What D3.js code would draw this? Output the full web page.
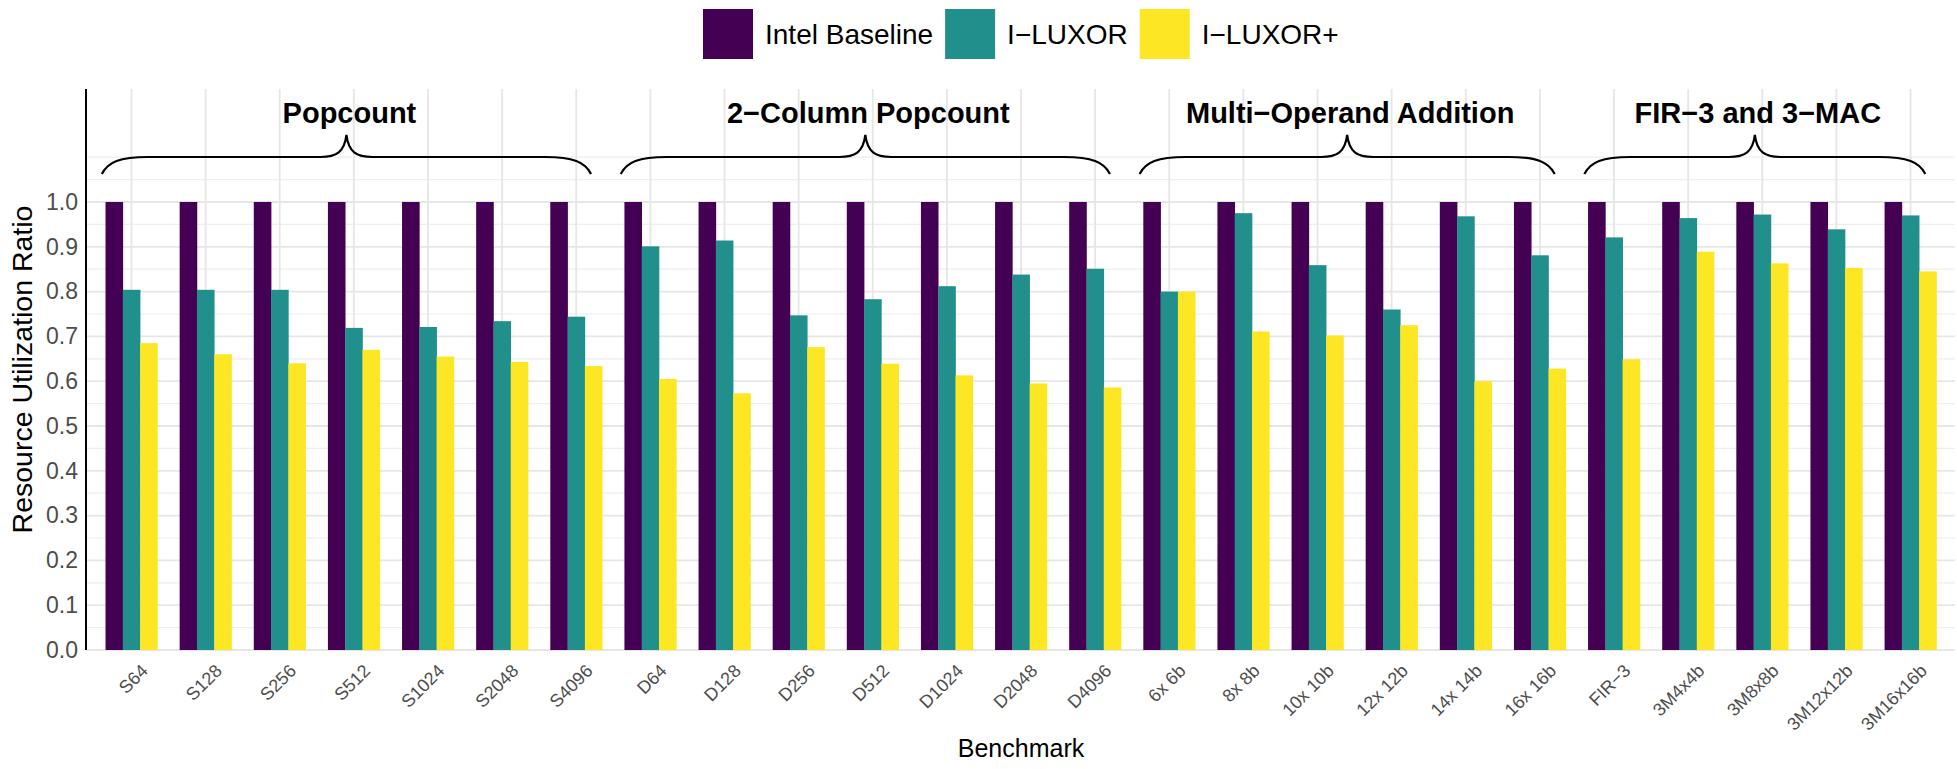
<!DOCTYPE html>
<html>
<head>
<meta charset="utf-8">
<script src="https://cdn.jsdelivr.net/npm/d3@7"></script>
<style>
  html, body { margin: 0; padding: 0; background: #ffffff; }
  svg { display: block; }
  text { font-family: "Liberation Sans", Arial, Helvetica, sans-serif; }
</style>
</head>
<body>
<svg id="chart" width="1957" height="769"></svg>
<script>
// ---------------- data ----------------
const categories = ["S64","S128","S256","S512","S1024","S2048","S4096",
  "D64","D128","D256","D512","D1024","D2048","D4096",
  "6x 6b","8x 8b","10x 10b","12x 12b","14x 14b","16x 16b",
  "FIR\u22123","3M4x4b","3M8x8b","3M12x12b","3M16x16b"];
const seriesNames = ["Intel Baseline","I\u2212LUXOR","I\u2212LUXOR+"];
const intelBaseline = [1.0,1.0,1.0,1.0,1.0,1.0,1.0,
  1.0,1.0,1.0,1.0,1.0,1.0,1.0,
  1.0,1.0,1.0,1.0,1.0,1.0,
  1.0,1.0,1.0,1.0,1.0];
const iLuxor = [0.804,0.804,0.804,0.719,0.721,0.734,0.744,
  0.901,0.914,0.747,0.783,0.812,0.838,0.851,
  0.800,0.975,0.859,0.760,0.968,0.881,
  0.921,0.964,0.972,0.939,0.970];
const iLuxorPlus = [0.685,0.660,0.640,0.670,0.655,0.643,0.634,
  0.605,0.573,0.676,0.639,0.613,0.595,0.586,
  0.800,0.711,0.702,0.725,0.600,0.628,
  0.649,0.889,0.863,0.853,0.845];
const seriesColors = ["#440154","#21908C","#FDE725"];
const groupLabels = ["Popcount","2\u2212Column Popcount","Multi\u2212Operand Addition","FIR\u22123 and 3\u2212MAC"];
const groupFirst = ["S64","D64","6x 6b","FIR\u22123"];
const groupLast = ["S4096","D4096","16x 16b","3M16x16b"];
const yTickValues = [0.0,0.1,0.2,0.3,0.4,0.5,0.6,0.7,0.8,0.9,1.0];
const yTickLabels = ["0.0","0.1","0.2","0.3","0.4","0.5","0.6","0.7","0.8","0.9","1.0"];
const yGridMinor = [0.05,0.15,0.25,0.35,0.45,0.55,0.65,0.75,0.85,0.95,1.05,1.1];
const xTitle = "Benchmark";
const yTitle = "Resource Utilization Ratio";

// ---------------- layout ----------------
const svg = d3.select("#chart");
const panel = {left: 87, right: 1955, top: 89, bottom: 650};
const FONT = "'Liberation Sans', Arial, Helvetica, sans-serif";

const x = d3.scalePoint().domain(categories).range([panel.left, panel.right]).padding(0.6);
const step = x.step();
const y = d3.scaleLinear().domain([0, 1.2522]).range([panel.bottom, panel.top]);
const groupW = 0.7 * step;
const xSub = d3.scaleBand().domain(seriesNames).range([-groupW / 2, groupW / 2]).paddingInner(0);
const color = d3.scaleOrdinal().domain(seriesNames).range(seriesColors);
const posAt = i => x(categories[0]) + i * step;

const rows = categories.map((c, i) => ({
  cat: c,
  vals: [intelBaseline[i], iLuxor[i], iLuxorPlus[i]].map((v, k) => ({series: seriesNames[k], v}))
}));

// ---------------- grid ----------------
const grid = svg.append("g");
grid.selectAll("line.minor").data(yGridMinor).enter().append("line")
  .attr("x1", panel.left).attr("x2", panel.right)
  .attr("y1", d => y(d)).attr("y2", d => y(d))
  .attr("stroke", "#eeeeee").attr("stroke-width", 1.2);
grid.selectAll("line.major").data(yTickValues).enter().append("line")
  .attr("x1", panel.left).attr("x2", panel.right)
  .attr("y1", d => y(d)).attr("y2", d => y(d))
  .attr("stroke", "#e6e6e6").attr("stroke-width", 1.8);
grid.selectAll("line.vert").data(categories).enter().append("line")
  .attr("x1", d => x(d)).attr("x2", d => x(d))
  .attr("y1", panel.top).attr("y2", panel.bottom)
  .attr("stroke", "#e6e6e6").attr("stroke-width", 1.8);

// ---------------- bars ----------------
const gBars = svg.append("g");
const grp = gBars.selectAll("g.cat").data(rows).enter().append("g")
  .attr("transform", d => `translate(${x(d.cat)},0)`);
grp.selectAll("rect").data(d => d.vals).enter().append("rect")
  .attr("x", d => xSub(d.series))
  .attr("width", xSub.bandwidth() + 0.3)
  .attr("y", d => y(d.v))
  .attr("height", d => y(0) - y(d.v))
  .attr("fill", d => color(d.series));

// ---------------- y axis ----------------
svg.append("line")
  .attr("x1", panel.left - 1).attr("x2", panel.left - 1)
  .attr("y1", panel.top).attr("y2", panel.bottom)
  .attr("stroke", "#000").attr("stroke-width", 2);

const yAxis = d3.axisLeft(y).tickValues(yTickValues)
  .tickFormat((d, i) => yTickLabels[i]).tickSize(0).tickPadding(9);
const yAxisG = svg.append("g").attr("transform", `translate(${panel.left},0)`).call(yAxis);
yAxisG.select(".domain").remove();
yAxisG.selectAll("text")
  .attr("font-family", FONT).attr("font-size", 23).attr("fill", "#4d4d4d");

// ---------------- x axis ----------------
const xAxis = d3.axisBottom(x).tickSize(0).tickPadding(0);
const xAxisG = svg.append("g").attr("transform", `translate(0,${panel.bottom})`).call(xAxis);
xAxisG.select(".domain").remove();
xAxisG.selectAll(".tick text")
  .attr("font-family", FONT).attr("font-size", 18).attr("fill", "#4d4d4d")
  .attr("text-anchor", "end")
  .attr("dy", null).attr("y", null)
  .attr("transform", "translate(17,22) rotate(-45)");

// ---------------- titles ----------------
svg.append("text")
  .attr("x", (panel.left + panel.right) / 2).attr("y", 757)
  .attr("text-anchor", "middle")
  .attr("font-family", FONT).attr("font-size", 25).attr("fill", "#000")
  .text(xTitle);
svg.append("text")
  .attr("transform", `translate(32,${(panel.top + panel.bottom) / 2}) rotate(-90)`)
  .attr("text-anchor", "middle")
  .attr("font-family", FONT).attr("font-size", 28.5).attr("fill", "#000")
  .text(yTitle);

// ---------------- braces ----------------
const braceG = svg.append("g");
const yEnd = y(1.0625), yFlat = y(1.1004), yTip = y(1.1496), yText = y(1.177);
groupLabels.forEach((lab, gi) => {
  const i0 = categories.indexOf(groupFirst[gi]);
  const i1 = categories.indexOf(groupLast[gi]);
  const x0 = posAt(i0 - 0.4), x1 = posAt(i1 + 0.2);
  const xm = (x0 + x1) / 2;
  const p = d3.path();
  p.moveTo(x0, yEnd);
  p.bezierCurveTo(x0 + 6, yEnd - 12, x0 + 18, yFlat, x0 + 46, yFlat);
  p.lineTo(xm - 26, yFlat);
  p.bezierCurveTo(xm - 10, yFlat, xm - 2, yFlat - 5, xm, yTip);
  p.bezierCurveTo(xm + 2, yFlat - 5, xm + 10, yFlat, xm + 26, yFlat);
  p.lineTo(x1 - 46, yFlat);
  p.bezierCurveTo(x1 - 18, yFlat, x1 - 6, yEnd - 12, x1, yEnd);
  braceG.append("path").attr("d", p.toString())
    .attr("fill", "none").attr("stroke", "#000").attr("stroke-width", 2.2);
  braceG.append("text")
    .attr("x", xm + 3).attr("y", yText)
    .attr("text-anchor", "middle")
    .attr("font-family", FONT).attr("font-size", 29).attr("font-weight", "bold")
    .attr("fill", "#000")
    .text(lab);
});

// ---------------- legend ----------------
const legend = svg.append("g");
let lx = 703;
seriesNames.forEach((s, k) => {
  legend.append("rect").attr("x", lx).attr("y", 9).attr("width", 50).attr("height", 50)
    .attr("fill", seriesColors[k]);
  const t = legend.append("text").attr("x", lx + 62).attr("y", 34)
    .attr("dominant-baseline", "central")
    .attr("font-family", FONT).attr("font-size", 28).attr("fill", "#000")
    .text(s);
  lx += 62 + t.node().getComputedTextLength() + 12;
});
</script>
</body>
</html>
